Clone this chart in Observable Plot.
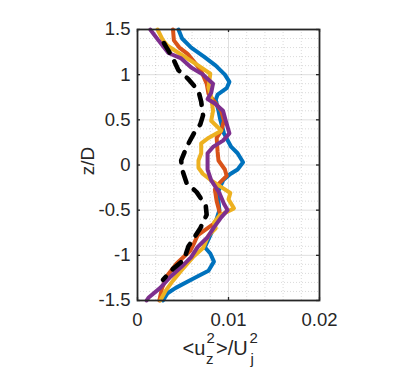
<!DOCTYPE html>
<html><head><meta charset="utf-8">
<script src="https://cdn.jsdelivr.net/npm/d3@7"></script>
<script src="https://cdn.jsdelivr.net/npm/@observablehq/plot@0.6"></script>
<style>body{margin:0;background:#fff;}</style>
</head><body><div id="chart"></div>
<script>
// tick values and labels
const xTicks = [0, 0.01, 0.02];
const xTickLabels = ["0", "0.01", "0.02"];
const yTicks = [-1.5, -1, -0.5, 0, 0.5, 1, 1.5];
const yTickLabels = ["-1.5", "-1", "-0.5", "0", "0.5", "1", "1.5"];
const xMinor = [0.002, 0.004, 0.006, 0.008, 0.012, 0.014, 0.016, 0.018];
const yMinor = [-1.4, -1.3, -1.2, -1.1, -0.9, -0.8, -0.7, -0.6, -0.4, -0.3, -0.2, -0.1,
                0.1, 0.2, 0.3, 0.4, 0.6, 0.7, 0.8, 0.9, 1.1, 1.2, 1.3, 1.4];

// series: z/D positions and <u_z^2>/U_j^2 values
const blueZ = [1.5, 1.4, 1.3, 1.2, 1.1, 1.0, 0.92, 0.85, 0.78, 0.72, 0.6, 0.5, 0.35, 0.2, 0.13, 0.03, -0.05, -0.1, -0.17, -0.31, -0.5, -0.69, -0.91, -0.98, -1.07, -1.17, -1.26, -1.36, -1.42, -1.5];
const blueU = [0.0045, 0.0049, 0.0059, 0.0073, 0.0086, 0.0096, 0.0101, 0.0098, 0.0088, 0.0086, 0.0089, 0.0091, 0.0095, 0.0103, 0.0110, 0.0116, 0.0110, 0.0102, 0.0094, 0.0088, 0.0090, 0.0084, 0.0074, 0.0080, 0.0084, 0.0078, 0.0061, 0.0042, 0.0033, 0.0028];

const orangeZ = [1.5, 1.38, 1.3, 1.23, 1.12, 1.04, 0.9, 0.79, 0.71, 0.6, 0.49, 0.38, 0.3, 0.15, 0.05, -0.05, -0.12, -0.2, -0.27, -0.4, -0.55, -0.65, -0.78, -0.87, -0.95, -1.09, -1.22, -1.36, -1.5];
const orangeU = [0.0039, 0.0040, 0.0046, 0.0055, 0.0064, 0.0070, 0.0076, 0.0078, 0.0084, 0.0092, 0.0095, 0.0092, 0.0087, 0.0088, 0.0089, 0.0096, 0.0098, 0.0090, 0.0085, 0.0087, 0.0091, 0.0084, 0.0066, 0.0062, 0.0058, 0.0043, 0.0033, 0.0027, 0.0024];

const yellowZ = [1.5, 1.38, 1.32, 1.21, 1.1, 1.01, 0.86, 0.75, 0.6, 0.49, 0.38, 0.3, 0.24, 0.13, 0.05, -0.03, -0.1, -0.17, -0.25, -0.31, -0.38, -0.48, -0.56, -0.64, -0.7, -0.78, -0.92, -1.02, -1.17, -1.28, -1.39, -1.5];
const yellowU = [0.0022, 0.0028, 0.0033, 0.0050, 0.0067, 0.0080, 0.0078, 0.0081, 0.0083, 0.0081, 0.0092, 0.0078, 0.0070, 0.0070, 0.0067, 0.0067, 0.0072, 0.0081, 0.0093, 0.0102, 0.0100, 0.0106, 0.0090, 0.0084, 0.0086, 0.0078, 0.0072, 0.0061, 0.0048, 0.0039, 0.0031, 0.0025];

const purpleZ = [1.5, 1.38, 1.24, 1.18, 1.08, 1.0, 0.9, 0.8, 0.73, 0.68, 0.6, 0.49, 0.35, 0.27, 0.2, 0.13, 0.05, -0.05, -0.17, -0.31, -0.43, -0.5, -0.58, -0.69, -0.8, -0.91, -1.02, -1.13, -1.24, -1.36, -1.47, -1.5];
const purpleU = [0.0014, 0.0023, 0.0034, 0.0048, 0.0059, 0.0072, 0.0083, 0.0081, 0.0077, 0.0085, 0.0094, 0.0097, 0.0101, 0.0094, 0.0083, 0.0077, 0.0077, 0.0077, 0.0081, 0.0090, 0.0095, 0.0099, 0.0092, 0.0084, 0.0077, 0.0066, 0.0059, 0.0048, 0.0036, 0.0025, 0.0012, 0.0010];

const blackZ = [1.35, 1.3, 1.2, 1.05, 0.95, 0.82, 0.7, 0.55, 0.45, 0.35, 0.2, 0.05, -0.05, -0.2, -0.3, -0.45, -0.55, -0.7, -0.9, -1.05, -1.15, -1.27];
const blackU = [0.0029, 0.0032, 0.0038, 0.0045, 0.0056, 0.0067, 0.0070, 0.0072, 0.0069, 0.0062, 0.0054, 0.0048, 0.0049, 0.0054, 0.0065, 0.0075, 0.0076, 0.0069, 0.0056, 0.0051, 0.0039, 0.0028];

const series = [
  {z: blueZ, u: blueU, color: "#0072BD"},
  {z: orangeZ, u: orangeU, color: "#D95319"},
  {z: yellowZ, u: yellowU, color: "#EDB120"},
  {z: purpleZ, u: purpleU, color: "#7E2F8E"}
];
const toRows = (zs, us) => zs.map((z, i) => ({z, u: us[i]}));

const W = 414, H = 373, mL = 137, mR = 95, mT = 29, mB = 73;
const plotH = H - mT - mB;
const plotW = W - mL - mR;
const axisColor = "#262626";
const font = "'Liberation Sans', Arial, Helvetica, sans-serif";

const marks = [
  Plot.ruleX(xMinor, {stroke: axisColor, strokeOpacity: 0.22, strokeDasharray: "1,2", strokeWidth: 0.8}),
  Plot.ruleY(yMinor, {stroke: axisColor, strokeOpacity: 0.22, strokeDasharray: "1,2", strokeWidth: 0.8}),
  Plot.ruleX([xTicks[1]], {stroke: axisColor, strokeOpacity: 0.15, strokeWidth: 1}),
  Plot.ruleY(yTicks, {stroke: axisColor, strokeOpacity: 0.15, strokeWidth: 1}),
  ...series.map(s => Plot.line(toRows(s.z, s.u), {x: "u", y: "z", stroke: s.color, strokeWidth: 4, strokeLinejoin: "round"})),
  Plot.line(toRows(blackZ, blackU), {x: "u", y: "z", stroke: "#000", strokeWidth: 4.6, strokeDasharray: "11,10", strokeLinejoin: "round"}),
  Plot.frame({stroke: axisColor, strokeWidth: 1.8}),
  Plot.tickX(xTicks, {x: d => d, stroke: axisColor, strokeWidth: 1.3, insetTop: plotH - 3}),
  Plot.tickX(xTicks, {x: d => d, stroke: axisColor, strokeWidth: 1.3, insetBottom: plotH - 3}),
  Plot.tickY(yTicks, {y: d => d, stroke: axisColor, strokeWidth: 1.3, insetRight: plotW - 3}),
  Plot.tickY(yTicks, {y: d => d, stroke: axisColor, strokeWidth: 1.3, insetLeft: plotW - 3}),
  Plot.axisX(xTicks, {tickSize: 0, tickPadding: 12.5, fontSize: 18.5, fill: axisColor,
    tickFormat: d => xTickLabels[xTicks.indexOf(d)], label: null}),
  Plot.axisY(yTicks, {tickSize: 0, tickPadding: 7, fontSize: 18.5, fill: axisColor,
    tickFormat: d => yTickLabels[yTicks.indexOf(d)], label: null}),
  Plot.text(["z/D"], {text: d => d, frameAnchor: "left", textAnchor: "middle", lineAnchor: "middle",
    dx: -50, dy: -4, rotate: -90, fontSize: 19, fill: axisColor})
];

const chart = Plot.plot({
  width: W, height: H,
  marginLeft: mL, marginRight: mR, marginTop: mT, marginBottom: mB,
  x: {domain: [0, 0.02]},
  y: {domain: [-1.5, 1.5]},
  style: {fontFamily: font, background: "#fff", overflow: "visible"},
  marks
});
document.getElementById("chart").appendChild(chart);

// x-axis label with super/subscripts: <u_z^2>/U_j^2
const svg = d3.select(chart);
const lbl = svg.append("text")
  .attr("font-family", font)
  .attr("fill", axisColor)
  .attr("text-anchor", "start");
const pieces = [
  {t: "<u", x: 182.5, y: 355, s: 20},
  {t: "2", x: 206.5, y: 343, s: 15},
  {t: "z", x: 206, y: 364, s: 15},
  {t: ">/U", x: 216, y: 355, s: 20},
  {t: "2", x: 249.5, y: 343, s: 15},
  {t: "j", x: 250.5, y: 364, s: 15}
];
pieces.forEach(p => lbl.append("tspan")
  .attr("x", p.x).attr("y", p.y)
  .attr("text-anchor", "start")
  .style("font-size", p.s + "px").text(p.t));
</script>
</body></html>
